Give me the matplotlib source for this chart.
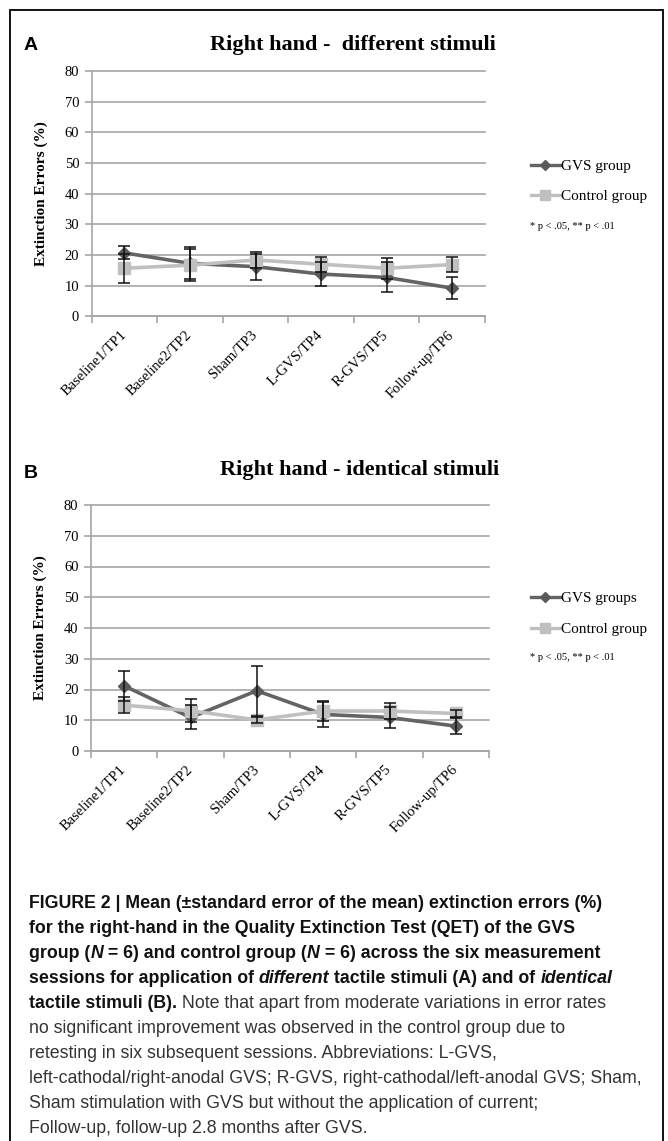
import matplotlib
matplotlib.use('Agg')
import matplotlib.pyplot as plt
from matplotlib.lines import Line2D
from matplotlib.patches import Rectangle
import numpy as np

# ---- data ----
sessions = ['Baseline1/TP1', 'Baseline2/TP2', 'Sham/TP3', 'L-GVS/TP4', 'R-GVS/TP5', 'Follow-up/TP6']

gvs_diff = [20.7, 17.3, 16.2, 13.8, 12.7, 9.2]
gvs_diff_err = [2.1, 5.2, 4.3, 3.9, 4.9, 3.5]
ctrl_diff = [15.7, 16.7, 18.4, 17.0, 15.7, 16.9]
ctrl_diff_err = [4.7, 5.2, 2.5, 2.4, 3.5, 2.5]

gvs_ident = [21.2, 10.9, 19.6, 11.9, 10.9, 8.1]
gvs_ident_err = [4.8, 3.9, 8.1, 4.1, 3.5, 2.6]
ctrl_ident = [14.9, 13.1, 10.1, 13.0, 13.0, 12.2]
ctrl_ident_err = [2.7, 3.7, 1.0, 3.3, 2.7, 1.2]

W, H = 668, 1141
fig = plt.figure(figsize=(W / 100, H / 100), dpi=100)
serif = ['Liberation Serif', 'DejaVu Serif']
sans = ['Liberation Sans', 'DejaVu Sans']

dark = '#646464'
light = '#c0c0c0'


def px_axes(left, right, top, bottom):
    return fig.add_axes([left / W, 1 - bottom / H, (right - left) / W, (bottom - top) / H])


def panel(ax, gvs, gvs_err, ctrl, ctrl_err):
    x = np.arange(len(sessions))
    ax.plot(x, gvs, color=dark, lw=2.6, marker='D', ms=6.5, mfc='#5a5a5a', mec='#5a5a5a', zorder=3)
    ax.plot(x, ctrl, color=light, lw=2.6, marker='s', ms=8.5, mfc=light, mec=light, zorder=4)
    ax.errorbar(x, gvs, yerr=gvs_err, fmt='none', ecolor='#111111', elinewidth=1.1, capsize=4, capthick=1.1, zorder=5)
    ax.errorbar(x, ctrl, yerr=ctrl_err, fmt='none', ecolor='#111111', elinewidth=1.1, capsize=4, capthick=1.1, zorder=5)
    ax.set_xlim(-0.5, len(sessions) - 0.5)
    ax.set_ylim(0, 80)
    ax.set_yticks(range(0, 81, 10))
    ax.set_yticklabels([str(v) for v in range(0, 81, 10)], fontfamily=serif, fontsize=10.5)
    ax.yaxis.grid(True, color='#a6a6a6', lw=1.2, clip_on=False)
    ax.set_axisbelow(True)
    ax.set_xticks(np.arange(-0.5, len(sessions)), minor=False)
    ax.set_xticklabels([])
    ax.set_xticks(x, minor=True)
    ax.set_xticklabels(sessions, minor=True, rotation=45, ha='right', va='center',
                       rotation_mode='anchor', fontfamily=serif, fontsize=10.5)
    ax.tick_params(axis='x', which='major', length=5, color='#a6a6a6', width=1.2)
    ax.tick_params(axis='x', which='minor', length=0, pad=12)
    ax.tick_params(axis='y', length=5, color='#a6a6a6', width=1.2, pad=4)
    for s in ['top', 'right']:
        ax.spines[s].set_visible(False)
    for s in ['left', 'bottom']:
        ax.spines[s].set_color('#a6a6a6')
        ax.spines[s].set_linewidth(1.2)
    ax.set_ylabel('Extinction Errors (%)', fontfamily=serif, fontweight='bold', fontsize=11, labelpad=12)


def legend(y0, gap, label1):
    h1 = Line2D([], [], color=dark, lw=2.4, marker='D', ms=5, mfc='#5a5a5a', mec='#5a5a5a')
    h2 = Line2D([], [], color=light, lw=2.4, marker='s', ms=7, mfc=light, mec=light)
    fig.legend([h1, h2], [label1, 'Control group'], loc='center left',
               bbox_to_anchor=(523 / W, 1 - (y0 + gap / 2) / H), frameon=False,
               prop={'family': serif, 'size': 11}, handlelength=1.9, handletextpad=0.1,
               labelspacing=(gap - 15) / 15, borderpad=0)


axA = px_axes(91.7, 485, 71, 316.4)
panel(axA, gvs_diff, gvs_diff_err, ctrl_diff, ctrl_diff_err)
axB = px_axes(91, 489, 505, 751)
panel(axB, gvs_ident, gvs_ident_err, ctrl_ident, ctrl_ident_err)

fig.text(353 / W, 1 - 45 / H, 'Right hand -  different stimuli', ha='center', va='center',
         fontfamily=serif, fontweight='bold', fontsize=16)
fig.text(360 / W, 1 - 470 / H, 'Right hand - identical stimuli', ha='center', va='center',
         fontfamily=serif, fontweight='bold', fontsize=16)
fig.text(24 / W, 1 - 46 / H, 'A', ha='left', va='center', fontfamily=sans, fontweight='bold', fontsize=14)
fig.text(24 / W, 1 - 474 / H, 'B', ha='left', va='center', fontfamily=sans, fontweight='bold', fontsize=14)

legend(166, 31, 'GVS group')
legend(598, 32, 'GVS groups')
fig.text(530 / W, 1 - 226 / H, '* p < .05, ** p < .01', ha='left', va='center', fontfamily=serif, fontsize=7.5)
fig.text(530 / W, 1 - 657 / H, '* p < .05, ** p < .01', ha='left', va='center', fontfamily=serif, fontsize=7.5)

# border
fig.add_artist(Rectangle((10 / W, -0.01), (663 - 10) / W, 1 - 10 / H + 0.01, transform=fig.transFigure,
                         fill=False, ec='black', lw=1.3))

# ---- caption ----
B, BI, N = ('bold', 'normal'), ('bold', 'italic'), ('normal', 'normal')
caption = [
    [('FIGURE 2 | Mean (±standard error of the mean) extinction errors (%)', B)],
    [('for the right-hand in the Quality Extinction Test (QET) of the GVS', B)],
    [('group (', B), ('N', BI), (' = 6) and control group (', B), ('N', BI), (' = 6) across the six measurement', B)],
    [('sessions for application of ', B), ('different', BI), (' tactile stimuli (A) and of ', B), ('identical', BI)],
    [('tactile stimuli (B).', B), (' Note that apart from moderate variations in error rates', N)],
    [('no significant improvement was observed in the control group due to', N)],
    [('retesting in six subsequent sessions. Abbreviations: L-GVS,', N)],
    [('left-cathodal/right-anodal GVS; R-GVS, right-cathodal/left-anodal GVS; Sham,', N)],
    [('Sham stimulation with GVS but without the application of current;', N)],
    [('Follow-up, follow-up 2.8 months after GVS.', N)],
]
renderer = fig.canvas.get_renderer()
for i, line in enumerate(caption):
    x = 29
    y = 908.3 + 25 * i
    for txt, (wt, st) in line:
        t = fig.text(x / W, 1 - y / H, txt, ha='left', va='baseline', fontfamily=sans,
                     fontweight=wt, fontstyle=st, fontsize=12.8,
                     color='#111111' if wt == 'bold' else '#333333')
        x = t.get_window_extent(renderer).x1

fig.savefig('out.png', dpi=100)
